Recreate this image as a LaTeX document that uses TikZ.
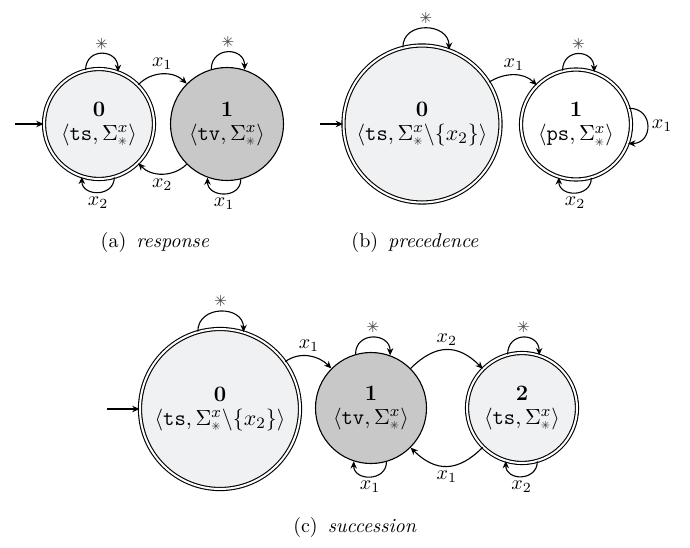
\documentclass[tikz,border=0pt]{standalone}
\usepackage{fontspec}
\newfontfamily\dvs{DejaVu Sans}
\usetikzlibrary{arrows.meta}
\definecolor{lightf}{RGB}{240,241,242}
\definecolor{grayf}{RGB}{200,200,200}
\newcommand\stlab{{\dvs\fontsize{7.5}{8}\selectfont\color{black!70}✳}}
\newcommand\subast{\mbox{\dvs\fontsize{5.5}{6}\selectfont\color{black!75}✳}}
\newcommand\lab[1]{$\langle\texttt{#1},\Sigma^{x}_{\subast}\rangle$}
\newcommand\labx[1]{$\langle\texttt{#1},\Sigma^{x}_{\subast}\backslash\{x_2\}\rangle$}
\begin{document}
\begin{tikzpicture}[x=0.5pt,y=-0.5pt,
  line width=0.55pt,
  >={Stealth[length=3.6pt,width=3.2pt]},
  every node/.style={inner sep=1.5pt},
  st/.style={circle,draw,line width=0.55pt,inner sep=0pt,align=center,font=\fontsize{11}{13}\selectfont},
  acc/.style={st,double,double distance=1pt,fill=lightf},
  accw/.style={st,double,double distance=1pt,fill=white},
  rej/.style={st,fill=grayf},
  lbl/.style={inner sep=2pt}
]
\useasboundingbox (0,0) rectangle (690,547);

% ---------- (a) response ----------
\node[acc,minimum size=55pt] (A0) at (99,124) {\textbf{0}\\[-1pt]\lab{ts}};
\node[rej,minimum size=56.5pt] (A1) at (227,124) {\textbf{1}\\[-1pt]\lab{tv}};
\coordinate (ainit) at (15,124);
\draw[->] (ainit) -- (A0);
\draw[->] (A0.104) .. controls +(0,-23) and +(0,-23) .. (A0.70) node[midway,above,lbl] {\stlab};
\draw[->] (A0.286) .. controls +(0,20) and +(0,20) .. (A0.252) node[midway,below,lbl] {$x_2$};
\draw[->] (A1.106) .. controls +(0,-23) and +(0,-23) .. (A1.72) node[midway,above,lbl] {\stlab};
\draw[->] (A1.284) .. controls +(0,20) and +(0,20) .. (A1.250) node[midway,below,lbl] {$x_1$};
\draw[->] (A0) to[bend left=45] node[above,lbl] {$x_1$} (A1);
\draw[->] (A1) to[bend left=45] node[below,lbl] {$x_2$} (A0);
\node (capA) at (155,242) {(a)\enspace\textit{response}};

% ---------- (b) precedence ----------
\node[acc,minimum size=78.5pt] (B0) at (422,124) {\textbf{0}\\[-1pt]\labx{ts}};
\node[accw,minimum size=55pt] (B1) at (576,124.5) {\textbf{1}\\[-1pt]\lab{ps}};
\coordinate (binit) at (320,124);
\draw[->] (binit) -- (B0);
\draw[->] (B0.104) .. controls +(0,-27) and +(0,-27) .. (B0.70) node[midway,above,lbl] {\stlab};
\draw[->] (B1.104) .. controls +(0,-23) and +(0,-23) .. (B1.71) node[midway,above,lbl] {\stlab};
\draw[->] (B1.17) .. controls +(25,0) and +(25,0) .. (B1.-20) node[midway,right,lbl] {$x_1$};
\draw[->] (B1.286) .. controls +(0,20) and +(0,20) .. (B1.252) node[midway,below,lbl] {$x_2$};
\draw[->] (B0) to[out=32,in=135] node[above,lbl] {$x_1$} (B1);
\node (capB) at (415,242) {(b)\enspace\textit{precedence}};

% ---------- (c) succession ----------
\node[acc,minimum size=80pt] (C0) at (220,409) {\textbf{0}\\[-1pt]\labx{ts}};
\node[rej,minimum size=55.5pt] (C1) at (371,408) {\textbf{1}\\[-1pt]\lab{tv}};
\node[acc,minimum size=55pt] (C2) at (522,408) {\textbf{2}\\[-1pt]\lab{ts}};
\coordinate (cinit) at (107,409);
\draw[->] (cinit) -- (C0);
\draw[->] (C0.106) .. controls +(0,-27) and +(0,-27) .. (C0.73) node[midway,above,lbl] {\stlab};
\draw[->] (C1.106) .. controls +(0,-23) and +(0,-23) .. (C1.70) node[midway,above,lbl] {\stlab};
\draw[->] (C1.286) .. controls +(0,20) and +(0,20) .. (C1.252) node[midway,below,lbl] {$x_1$};
\draw[->] (C2.105) .. controls +(0,-23) and +(0,-23) .. (C2.72) node[midway,above,lbl] {\stlab};
\draw[->] (C2.286) .. controls +(0,20) and +(0,20) .. (C2.253) node[midway,below,lbl] {$x_2$};
\draw[->] (C0) to[out=36,in=135] node[above,lbl] {$x_1$} (C1);
\draw[->] (C1) to[bend left=45,looseness=1.25] node[above,lbl] {$x_2$} (C2);
\draw[->] (C2) to[bend left=45,looseness=1.25] node[below,lbl] {$x_1$} (C1);
\node (capC) at (355,527) {(c)\enspace\textit{succession}};
\end{tikzpicture}
\end{document}
